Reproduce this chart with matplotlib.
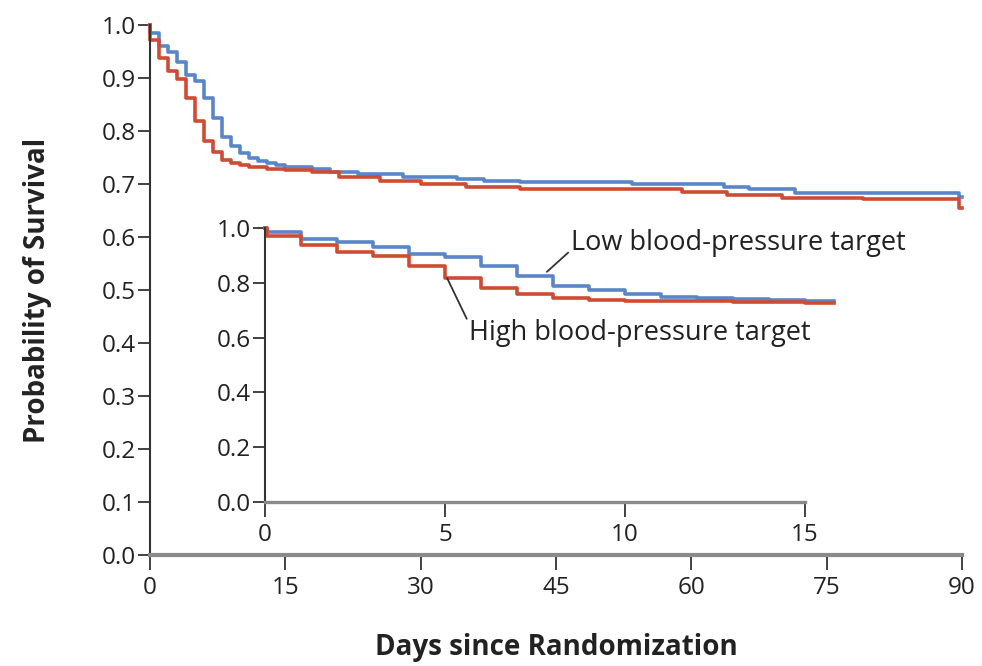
"""Kaplan-Meier survival by blood-pressure target, with an inset of the first 15 days"""
import matplotlib.pyplot as plt

# event times (days) and survival after each step
LOW_T = [0, 0.05, 1, 2, 3, 4, 5, 6, 7, 8, 9, 10, 11, 12, 13, 14, 15, 18, 20,
         23, 28, 34, 37, 41, 53.4, 63.6, 66.4, 71.5, 89.7, 90]
LOW_S = [1.0, 0.985, 0.96, 0.95, 0.931, 0.906, 0.894, 0.862, 0.825, 0.788,
         0.772, 0.759, 0.75, 0.744, 0.74, 0.736, 0.733, 0.728, 0.723, 0.718,
         0.714, 0.709, 0.706, 0.704, 0.700, 0.695, 0.690, 0.683, 0.675, 0.675]

HIGH_T = [0, 0.05, 1, 2, 3, 4, 5, 6, 7, 8, 9, 10, 11, 13, 15, 18, 21, 25.5,
          30, 35, 41, 59, 64, 70, 79, 89.7, 90]
HIGH_S = [1.0, 0.9725, 0.9375, 0.9125, 0.8975, 0.8625, 0.819, 0.781, 0.76,
          0.745, 0.739, 0.735, 0.732, 0.729, 0.727, 0.722, 0.714, 0.706,
          0.700, 0.695, 0.690, 0.684, 0.679, 0.674, 0.671, 0.655, 0.655]

MAIN_XTICKS = [0, 15, 30, 45, 60, 75, 90]
MAIN_YTICKS = [0.0, 0.1, 0.2, 0.3, 0.4, 0.5, 0.6, 0.7, 0.8, 0.9, 1.0]
INSET_XTICKS = [0, 5, 10, 15]
INSET_YTICKS = [0.0, 0.2, 0.4, 0.6, 0.8, 1.0]
INSET_END = 15.8

BLUE = '#5a86c9'
RED = '#cf4b33'
GRAY = '#8a8a8a'
DARK = '#333333'
TEXT = '#222222'

plt.rcParams['font.family'] = ['Open Sans', 'DejaVu Sans']


def style_axes(ax, bottom_lw):
    for side in ('top', 'right'):
        ax.spines[side].set_visible(False)
    ax.spines['left'].set_color(DARK)
    ax.spines['left'].set_linewidth(1.5)
    ax.spines['bottom'].set_color(GRAY)
    ax.spines['bottom'].set_linewidth(bottom_lw)
    ax.tick_params(axis='both', direction='out', colors=DARK,
                   labelcolor=TEXT, labelsize=17.5, width=1.3)
    ax.tick_params(axis='y', length=9, pad=1)
    ax.tick_params(axis='x', length=11, pad=4)
    ax.patch.set_alpha(0)


def main():
    fig = plt.figure(figsize=(9.82, 6.66), dpi=100)

    ax = fig.add_axes([150 / 982, 111 / 666, 812 / 982, 530 / 666])
    ax.step(LOW_T, LOW_S, where='post', color=BLUE, lw=2.6, clip_on=False)
    ax.step(HIGH_T, HIGH_S, where='post', color=RED, lw=2.6, clip_on=False)
    ax.set_xlim(0, 90)
    ax.set_ylim(0, 1.0)
    ax.set_xticks(MAIN_XTICKS)
    ax.set_yticks(MAIN_YTICKS)
    ax.set_yticklabels([f'{v:.1f}' for v in MAIN_YTICKS])
    style_axes(ax, 3.0)
    ax.set_xlabel('Days since Randomization', fontsize=20, fontweight='bold',
                  labelpad=24, color=TEXT)
    ax.set_ylabel('Probability of Survival', fontsize=20, fontweight='bold',
                  labelpad=36, color=TEXT)

    # inset: same curves, first days only, running a little past the axis
    ins = fig.add_axes([265 / 982, 164 / 666, 540 / 982, 274 / 666])
    for t, s, c in ((LOW_T, LOW_S, BLUE), (HIGH_T, HIGH_S, RED)):
        n = len([v for v in t if v <= INSET_END])
        ins.step(t[:n] + [INSET_END], s[:n] + [s[n - 1]], where='post',
                 color=c, lw=2.6, clip_on=False)
    ins.set_xlim(0, 15)
    ins.set_ylim(0, 1.0)
    ins.set_xticks(INSET_XTICKS)
    ins.set_yticks(INSET_YTICKS)
    ins.set_yticklabels([f'{v:.1f}' for v in INSET_YTICKS])
    style_axes(ins, 2.4)

    ins.annotate('Low blood-pressure target', xy=(7.83, 0.84),
                 xytext=(8.5, 0.945), fontsize=19.5, color=TEXT,
                 va='center', ha='left',
                 arrowprops=dict(arrowstyle='-', color=DARK, lw=1.3,
                                 shrinkA=0, shrinkB=0, relpos=(0.0, 0.25)))
    ins.annotate('High blood-pressure target', xy=(5.06, 0.817),
                 xytext=(5.68, 0.617), fontsize=19.5, color=TEXT,
                 va='center', ha='left',
                 arrowprops=dict(arrowstyle='-', color=DARK, lw=1.3,
                                 shrinkA=0, shrinkB=0, relpos=(0.0, 0.8)))

    fig.savefig('out.png', dpi=100)


if __name__ == '__main__':
    main()
